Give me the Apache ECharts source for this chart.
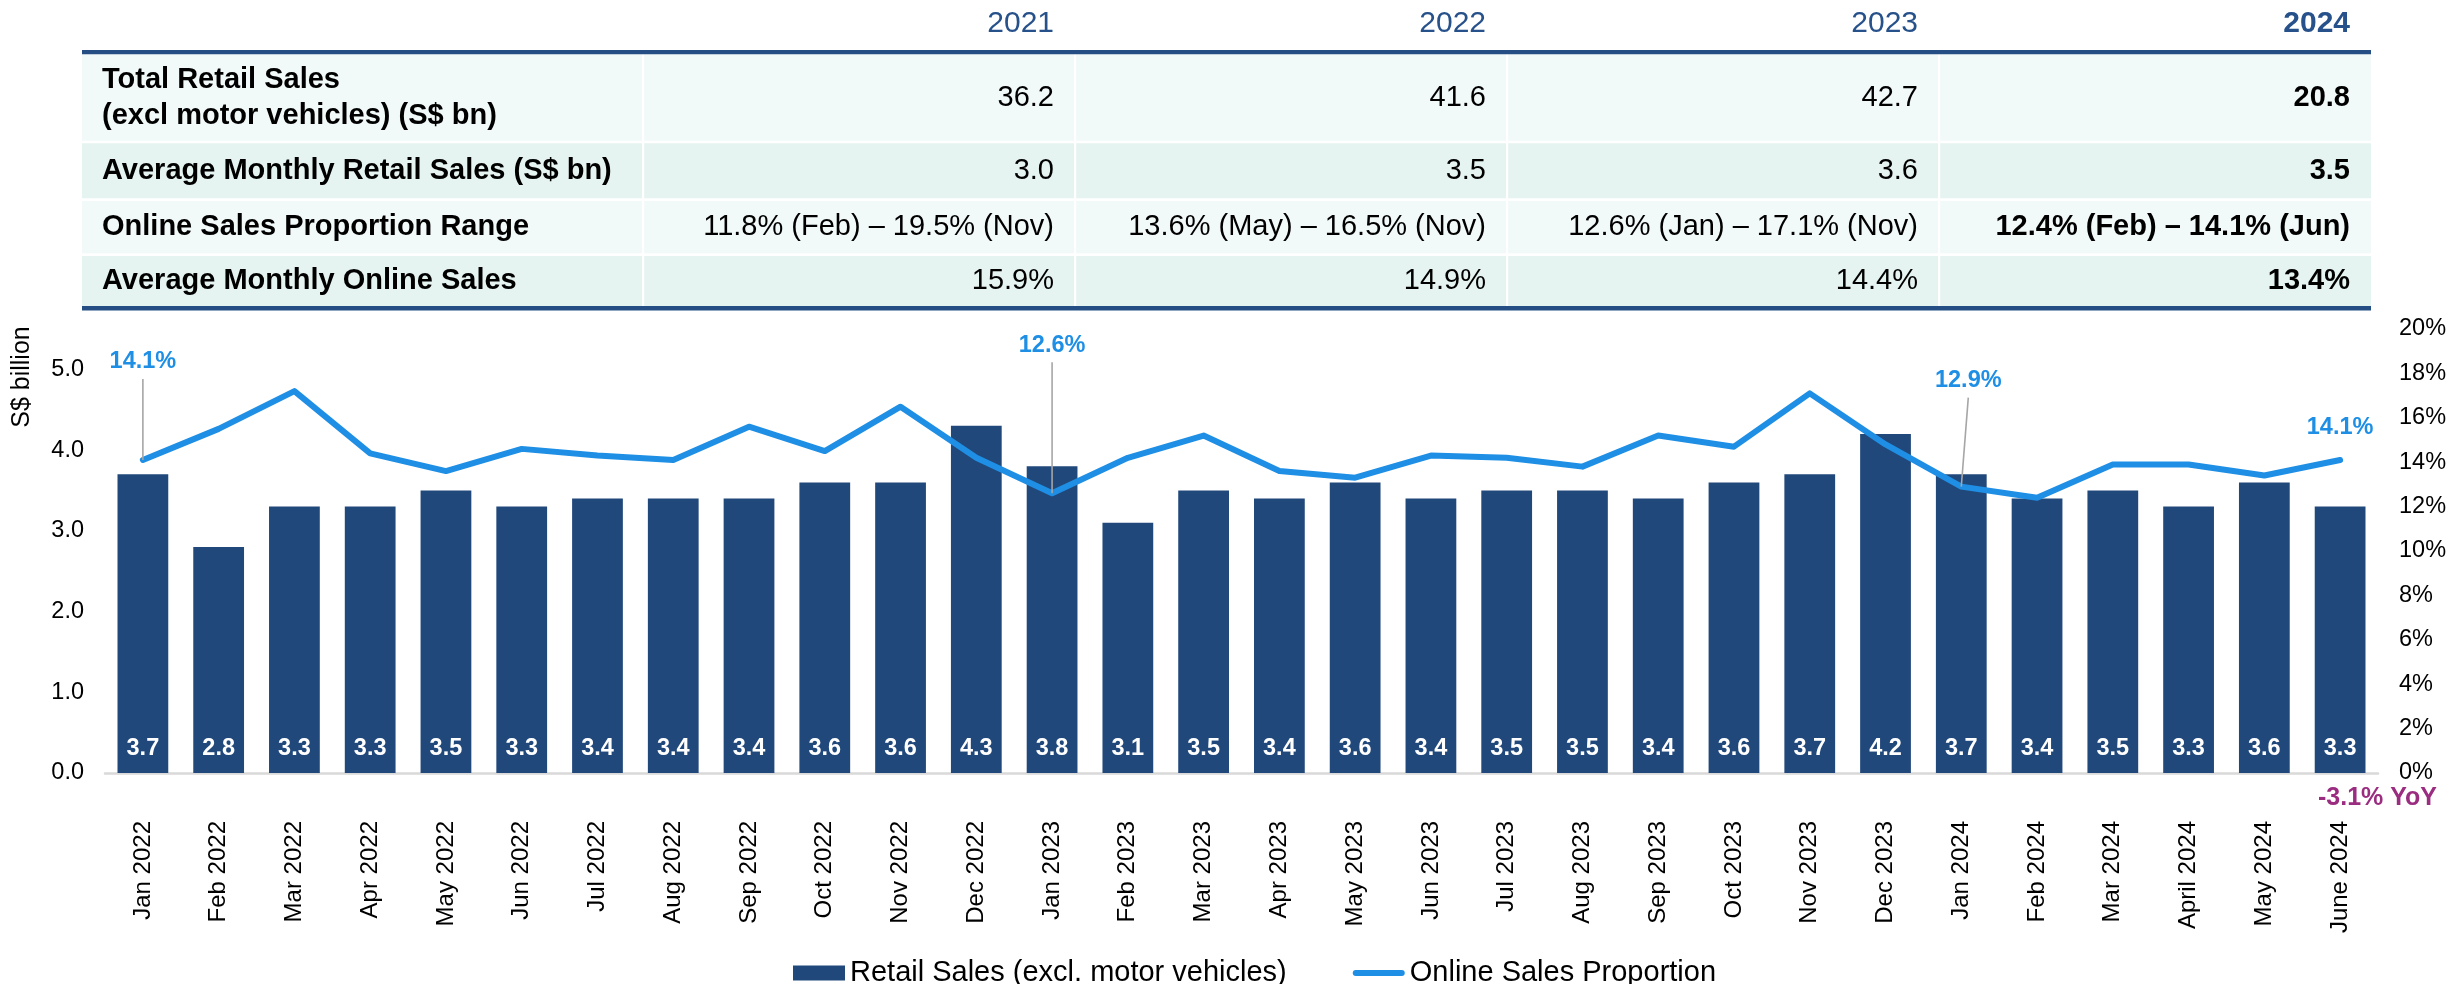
<!DOCTYPE html>
<html>
<head>
<meta charset="utf-8">
<title>Retail Sales and Online Sales Proportion</title>
<script src="https://cdn.jsdelivr.net/npm/echarts@6/dist/echarts.min.js"></script>
<style>
  html, body { margin: 0; padding: 0; background: #ffffff; }
  #chart { width: 2461px; height: 984px; }
</style>
</head>
<body>
<div id="chart"></div>
<script>
// ---- Summary table data ----
const years = ['2021', '2022', '2023', '2024'];
const rowLabels = [
  'Total Retail Sales\n(excl motor vehicles) (S$ bn)',
  'Average Monthly Retail Sales (S$ bn)',
  'Online Sales Proportion Range',
  'Average Monthly Online Sales'
];
const totalSales = ['36.2', '41.6', '42.7', '20.8'];
const avgMonthlySales = ['3.0', '3.5', '3.6', '3.5'];
const onlineRange = [
  '11.8% (Feb) \u2013 19.5% (Nov)',
  '13.6% (May) \u2013 16.5% (Nov)',
  '12.6% (Jan) \u2013 17.1% (Nov)',
  '12.4% (Feb) \u2013 14.1% (Jun)'
];
const avgOnlineShare = ['15.9%', '14.9%', '14.4%', '13.4%'];

// ---- Monthly chart data ----
const months = [
  'Jan 2022', 'Feb 2022', 'Mar 2022', 'Apr 2022', 'May 2022', 'Jun 2022',
  'Jul 2022', 'Aug 2022', 'Sep 2022', 'Oct 2022', 'Nov 2022', 'Dec 2022',
  'Jan 2023', 'Feb 2023', 'Mar 2023', 'Apr 2023', 'May 2023', 'Jun 2023',
  'Jul 2023', 'Aug 2023', 'Sep 2023', 'Oct 2023', 'Nov 2023', 'Dec 2023',
  'Jan 2024', 'Feb 2024', 'Mar 2024', 'April 2024', 'May 2024', 'June 2024'
];
// Retail sales excluding motor vehicles, S$ billion
const retailSales = [
  3.7, 2.8, 3.3, 3.3, 3.5, 3.3, 3.4, 3.4, 3.4, 3.6, 3.6, 4.3,
  3.8, 3.1, 3.5, 3.4, 3.6, 3.4, 3.5, 3.5, 3.4, 3.6, 3.7, 4.2,
  3.7, 3.4, 3.5, 3.3, 3.6, 3.3
];
// Online share of retail sales, %
const onlineShare = [
  14.1, 15.5, 17.2, 14.4, 13.6, 14.6, 14.3, 14.1, 15.6, 14.5, 16.5, 14.2,
  12.6, 14.2, 15.2, 13.6, 13.3, 14.3, 14.2, 13.8, 15.2, 14.7, 17.1, 14.8,
  12.9, 12.4, 13.9, 13.9, 13.4, 14.1
];
const annotatedMonths = ['Jan 2022', 'Jan 2023', 'Jan 2024', 'June 2024'];
const leftTicks = { min: 0, max: 5.5, step: 1 };
const rightTicks = { min: 0, max: 20, step: 2 };
const yoyNote = '-3.1% YoY';

const seriesNames = ['Retail Sales (excl. motor vehicles)', 'Online Sales Proportion'];

// ---- Styling ----
const FONT = '"Liberation Sans", Arial, Helvetica, sans-serif';
const NAVY = '#21487B';
const BLUE = '#1E8FE5';
const HEAD = '#26518A';

// callout placement for the annotated points (lift above the point, sideways shift, leader line)
const calloutStyle = {
  'Jan 2022': { lift: 98, dx: 0, leader: true },
  'Jan 2023': { lift: 148, dx: 0, leader: true },
  'Jan 2024': { lift: 106, dx: 7, leader: true },
  'June 2024': { lift: 32, dx: 0, leader: false }
};

// ---- Table drawn as graphic elements ----
const table = {
  left: 82, labelW: 561, colW: 432,
  topRule: [50, 54.3], bottomRule: [306, 310.5],
  rows: [[54.3, 140.7], [143.3, 198.3], [201, 253.3], [256, 306]],
  fills: ['#F2F9F9', '#E6F4F1', '#F2F9F9', '#E6F4F1'],
  headerY: 23.5, padRight: 21, padLeft: 20
};
const tableRight = table.left + table.labelW + table.colW * years.length;
const rowValues = [totalSales, avgMonthlySales, onlineRange, avgOnlineShare];

function buildTable() {
  const els = [];
  table.rows.forEach((r, i) => {
    els.push({ type: 'rect', silent: true, z: 0,
      shape: { x: table.left, y: r[0], width: tableRight - table.left, height: r[1] - r[0] },
      style: { fill: table.fills[i] } });
  });
  // white column separators
  for (let c = 0; c < years.length; c++) {
    const x = table.left + table.labelW + table.colW * c;
    els.push({ type: 'rect', silent: true, z: 1,
      shape: { x: x - 1, y: table.topRule[1], width: 2.2, height: table.bottomRule[0] - table.topRule[1] },
      style: { fill: '#ffffff' } });
  }
  // top and bottom rules
  [table.topRule, table.bottomRule].forEach(rule => {
    els.push({ type: 'rect', silent: true, z: 2,
      shape: { x: table.left, y: rule[0], width: tableRight - table.left, height: rule[1] - rule[0] },
      style: { fill: '#254E84' } });
  });
  // year headers
  years.forEach((y, c) => {
    const xr = table.left + table.labelW + table.colW * (c + 1) - table.padRight;
    els.push({ type: 'text', silent: true, z: 3, x: xr, y: table.headerY,
      style: { text: y, align: 'right', verticalAlign: 'middle', fill: HEAD,
        font: (c === years.length - 1 ? 'bold ' : '') + '30px ' + FONT } });
  });
  // row labels and values
  table.rows.forEach((r, i) => {
    const cy = (r[0] + r[1]) / 2;
    els.push({ type: 'text', silent: true, z: 3, x: table.left + table.padLeft, y: cy,
      style: { text: rowLabels[i], align: 'left', verticalAlign: 'middle', fill: '#000',
        font: 'bold 29px ' + FONT, lineHeight: 36 } });
    rowValues[i].forEach((v, c) => {
      const xr = table.left + table.labelW + table.colW * (c + 1) - table.padRight;
      els.push({ type: 'text', silent: true, z: 3, x: xr, y: cy,
        style: { text: v, align: 'right', verticalAlign: 'middle', fill: '#000',
          font: (c === years.length - 1 ? 'bold ' : '') + '29px ' + FONT } });
    });
  });
  return els;
}

const chart = echarts.init(document.getElementById('chart'), null, { renderer: 'canvas' });

const calloutData = annotatedMonths.map(m => {
  const i = months.indexOf(m);
  return [i, onlineShare[i], m];
});

const option = {
  backgroundColor: '#ffffff',
  animation: false,
  textStyle: { fontFamily: FONT },
  grid: { left: 105, right: 83, top: 329, bottom: 211, containLabel: false },
  legend: {
    data: [
      { name: seriesNames[0], icon: 'rect' },
      // thick rounded stroke for the line series
      { name: seriesNames[1], icon: 'path://M3,0 L49,0 A3,3 0 0 1 49,6 L3,6 A3,3 0 0 1 3,0 Z' }
    ],
    symbolKeepAspect: true,
    left: 788, top: 953,
    itemWidth: 52, itemHeight: 15, itemGap: 66,
    textStyle: { fontSize: 29, color: '#000', fontFamily: FONT, lineHeight: 30 }
  },
  xAxis: {
    type: 'category',
    data: months,
    axisLine: { show: true, lineStyle: { color: '#D9D9D9', width: 2.5 } },
    axisTick: { show: false },
    axisLabel: { rotate: 90, margin: 48, fontSize: 24, color: '#000', fontFamily: FONT, interval: 0 }
  },
  yAxis: [
    {
      type: 'value',
      min: leftTicks.min, max: leftTicks.max, interval: leftTicks.step,
      splitLine: { show: false },
      axisLine: { show: false }, axisTick: { show: false },
      axisLabel: { showMaxLabel: false, margin: 21, fontSize: 23.5, color: '#000', fontFamily: FONT,
        formatter: v => (Number.isInteger(v) ? v.toFixed(1) : '') }
    },
    {
      type: 'value',
      min: rightTicks.min, max: rightTicks.max, interval: rightTicks.step,
      position: 'right',
      splitLine: { show: false },
      axisLine: { show: false }, axisTick: { show: false },
      axisLabel: { margin: 21, fontSize: 23.5, color: '#000', fontFamily: FONT, formatter: '{value}%' }
    }
  ],
  series: [
    {
      name: seriesNames[0],
      type: 'bar',
      data: retailSales,
      barCategoryGap: '33%',
      itemStyle: { color: NAVY },
      label: {
        show: true, position: 'insideBottom', distance: 12,
        color: '#ffffff', fontWeight: 'bold', fontSize: 23.5, fontFamily: FONT,
        formatter: p => p.value.toFixed(1)
      },
      z: 2
    },
    {
      name: seriesNames[1],
      type: 'line',
      yAxisIndex: 1,
      data: onlineShare,
      symbol: 'none',
      color: BLUE,
      lineStyle: { color: BLUE, width: 6, join: 'round', cap: 'round' },
      z: 3
    },
    {
      // value callouts above selected points of the online share line
      type: 'custom',
      yAxisIndex: 1,
      data: calloutData,
      clip: false,
      silent: true,
      z: 4,
      renderItem: function (params, api) {
        const p = api.coord([api.value(0), api.value(1)]);
        const month = calloutData[params.dataIndex][2];
        const s = calloutStyle[month];
        const ty = p[1] - s.lift;
        const children = [];
        if (s.leader) {
          children.push({
            type: 'line',
            shape: { x1: p[0], y1: p[1], x2: p[0] + s.dx, y2: ty + 17 },
            style: { stroke: '#A6A6A6', lineWidth: 1.6 }
          });
        }
        children.push({
          type: 'text',
          x: p[0] + s.dx, y: ty,
          style: {
            text: api.value(1).toFixed(1) + '%',
            align: 'center', verticalAlign: 'middle',
            fill: BLUE, font: 'bold 23.5px ' + FONT
          }
        });
        return { type: 'group', children: children };
      }
    }
  ],
  graphic: [
    ...buildTable(),
    {
      type: 'text', silent: true, x: 22, y: 377, rotation: Math.PI / 2,
      style: { text: 'S$ billion', align: 'center', verticalAlign: 'middle', fill: '#000', font: '25px ' + FONT }
    },
    {
      type: 'text', silent: true, x: 2437, y: 798,
      style: { text: yoyNote, align: 'right', verticalAlign: 'middle', fill: '#9B2D80', font: 'bold 25px ' + FONT }
    }
  ]
};

chart.setOption(option);
</script>
</body>
</html>
